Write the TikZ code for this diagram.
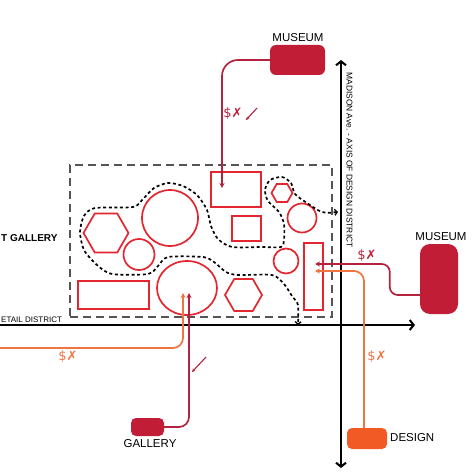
\documentclass[tikz,border=0pt]{standalone}
\usepackage{fontspec}
\setmainfont{Liberation Sans}
\newfontfamily\symf{DejaVu Sans}
\usetikzlibrary{shapes.geometric,arrows.meta,calc}
\definecolor{shapered}{HTML}{E3262F}
\definecolor{crim}{HTML}{C11D36}
\definecolor{crimline}{HTML}{B3223E}
\definecolor{orline}{HTML}{EE7440}
\definecolor{desfill}{HTML}{F15A24}
\definecolor{zonegray}{HTML}{555555}
\begin{document}
\begin{tikzpicture}[x=1pt,y=-1pt,
  font=\fontsize{11.5}{13}\selectfont,
  shp/.style={draw=shapered,line width=1.7pt,inner sep=0pt,outer sep=0pt},
  hexa/.style={shp,regular polygon,regular polygon sides=6},
  circ/.style={shp,circle},
  box/.style={shp,rectangle},
  blockbox/.style={rectangle,inner sep=0pt,rounded corners=#1},
  lbl/.style={inner sep=0pt},
  money/.style={lbl,font=\symf\fontsize{13}{15}\selectfont},
  conn/.style={line width=1.7pt,rounded corners=10pt,-{Stealth[length=5pt,width=5pt]}},
  crimconn/.style={conn,draw=crimline},
  orconn/.style={conn,draw=orline},
  axis/.style={line width=2.1pt,black},
  dotpath/.style={black,line width=1.7pt,dash pattern=on 3pt off 2.6pt},
]
\useasboundingbox (0,0) rectangle (476,476);
\clip (0,0) rectangle (476,476);

% zone
\node[draw=zonegray,line width=1.3pt,dash pattern=on 8pt off 5pt,rectangle,inner sep=0pt,
  minimum width=262pt,minimum height=152pt] (zone) at (201,241) {};

% shapes
\node[box,minimum width=50pt,minimum height=35pt] (rTop) at (236,189.5) {};
\node[box,minimum width=29pt,minimum height=25pt] (rSmall) at (246.5,228.5) {};
\node[hexa,minimum size=21pt] (hexS) at (282,193) {};
\node[circ,minimum size=29pt] (cR) at (302,218) {};
\node[circ,minimum size=25pt] (cS) at (286,261) {};
\node[box,minimum width=19pt,minimum height=67pt] (rTall) at (313.5,276.5) {};
\node[circ,minimum size=56pt] (cBig) at (170,218) {};
\node[hexa,minimum size=45pt] (hexL) at (106,233) {};
\node[circ,minimum size=31pt] (cL) at (139,254.5) {};
\node[shp,ellipse,minimum width=60pt,minimum height=54pt] (ell) at (187,288) {};
\node[box,minimum width=71pt,minimum height=28pt] (rBot) at (113.5,295) {};
\node[hexa,minimum size=37pt] (hexB) at (243.5,295) {};

% dotted circulation path
\draw[dotpath,{Straight Barb[length=2.5pt,width=6pt,line width=1.3pt]}-{Straight Barb[length=2.5pt,width=6pt,line width=1.3pt]}]
  plot[smooth,tension=0.45] coordinates {
  (338,212) (322,212) (307,203) (295,194) (291,183) (282,177) (270,180) (265,190)
  (268,201) (279,212) (284,224) (284,240) (281,247) (262,247) (232,247) (218,239)
  (211,226) (207,210) (197,195) (183,186) (168,183) (154,188) (143,199) (133,207)
  (95,208) (84,216) (80,232) (84,250) (97,265) (112,274) (148,274) (158,266)
  (168,257) (203,257) (214,262) (226,272) (238,275) (272,275) (284,284) (292,296)
  (298,305) (298,325)};

% axes
\coordinate (vTop) at (341,60);
\coordinate (vBot) at (341,468);
\coordinate (hL) at (-5,325);
\coordinate (hR) at (415,325);
\draw[axis,{Straight Barb[length=4pt,width=10pt,line width=2pt]}-{Straight Barb[length=4pt,width=10pt,line width=2pt]}] (vTop) -- (vBot);
\draw[axis,-{Straight Barb[length=4pt,width=10pt,line width=2pt]}] (hL) -- (hR);
\node[lbl,rotate=-90,font=\fontsize{8.4}{10}\selectfont] (axlab) at (349.5,160) {MADISON Ave. - AXIS OF DESIGN DISTRICT};
\node[lbl,anchor=west,font=\fontsize{8}{10}\selectfont] (retail) at (1,319.5) {ETAIL DISTRICT};
\node[lbl,anchor=west,font=\bfseries\fontsize{10}{12}\selectfont] (artg) at (1,238) {T GALLERY};

% program blocks
\node[blockbox=6pt,fill=crim,minimum width=55pt,minimum height=30pt] (mTop) at (297.5,60) {};
\node[lbl] (mTopL) at (298,38) {MUSEUM};
\node[blockbox=10pt,fill=crim,minimum width=38pt,minimum height=70pt] (mRight) at (439,279) {};
\node[lbl] (mRightL) at (441,237) {MUSEUM};
\node[blockbox=5pt,fill=crim,minimum width=33pt,minimum height=18pt] (gal) at (147.5,427) {};
\node[lbl] (galL) at (150,444) {GALLERY};
\node[blockbox=5pt,fill=desfill,minimum width=40pt,minimum height=21pt] (des) at (367,438.5) {};
\node[lbl,anchor=west] (desL) at (390,438) {DESIGN};

% connector ends
\coordinate (t1) at (222,188);
\coordinate (t2) at (315,264);
\coordinate (t3) at (183,293);
\coordinate (t4) at (189,293);
\coordinate (t5) at (315,271);
\coordinate (lo) at (-5,348);

\draw[crimconn,rounded corners=16pt] (mTop.west) -| (t1);
\draw[crimconn,rounded corners=8pt] ([yshift=-16pt]mRight.west) -- ++(-30,0) |- (t2);
\draw[orconn] (lo) -| (t3);
\draw[crimconn] (gal.east) -| (t4);
\draw[orconn] ([xshift=-3pt]des.north) |- (t5);

% cost labels
\node[money,text=crim] (m1) at (233,114) {\$✗};
\node[money,text=crim] (m2) at (367,256) {\$✗};
\node[money,text=orline] (m3) at (68,357) {\$✗};
\node[money,text=orline] (m4) at (377,357) {\$✗};

% small arrows
\coordinate (s1a) at (257,108);
\coordinate (s1b) at (246,120);
\coordinate (s2a) at (206,357);
\coordinate (s2b) at (192,372);
\draw[crimline,line width=1.1pt,-{Stealth[length=3.5pt,width=3.5pt]}] (s1a) -- (s1b);
\draw[crimline,line width=1.1pt,-{Stealth[length=3.5pt,width=3.5pt]}] (s2a) -- (s2b);
\end{tikzpicture}
\end{document}
